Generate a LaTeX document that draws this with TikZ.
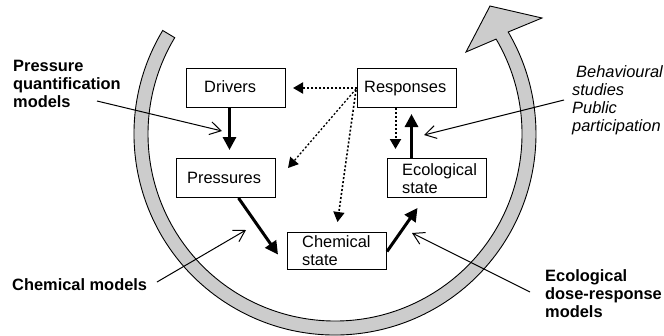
\documentclass[tikz,border=0pt]{standalone}
\usepackage{fontspec}
\setmainfont{Liberation Sans}
\usetikzlibrary{arrows.meta,calc}
\begin{document}
\begin{tikzpicture}[x=1pt,y=-1pt,
  box/.style={draw, line width=1pt, minimum width=99pt, minimum height=39pt, inner sep=0pt, fill=white, anchor=north west},
  txt/.style={anchor=base west, inner sep=0pt, align=left, font=\fontsize{16.4}{18}\selectfont},
  ann/.style={anchor=base west, inner sep=0pt, align=left, font=\fontsize{16.4}{18}\selectfont\bfseries},
  annit/.style={anchor=base west, inner sep=0pt, align=left, font=\fontsize{16.4}{18}\selectfont\itshape},
  thickarrow/.style={line width=3pt, -{Triangle[length=13pt,width=13pt]}},
  dotarrow/.style={line width=2pt, dash pattern=on 2pt off 2pt, -{Triangle[length=10pt,width=11pt]}},
  notearrow/.style={line width=1pt, -{Straight Barb[length=11pt,width=13pt]}},
]
\useasboundingbox (0,0) rectangle (664,335);

% big grey circular arrow
\coordinate (ctr) at (335,134);
\path[fill=gray!40, draw=black, line width=0.9pt]
  ($(ctr)+(211:201)$) arc[start angle=211, end angle=-30.5, radius=201]
  -- (542,18) -- (490,6) -- (466,52)
  -- ($(ctr)+(-30.5:187)$) arc[start angle=-30.5, end angle=211, radius=187]
  -- cycle;

% boxes
\node[box] (drv) at (186,68) {};
\node[box] (rsp) at (357,68) {};
\node[box] (prs) at (176,158) {};
\node[box] (eco) at (387,158) {};
\node[box, minimum height=37pt] (chm) at (287,232) {};

% box texts (anchor = baseline of last line)
\node[txt] (drvt) at (204,92.3) {Drivers};
\node[txt] (rspt) at (364,92.3) {Responses};
\node[txt] (prst) at (187,183) {Pressures};
\node[txt] (ecot) at (402,193) {Ecological\\state};
\node[txt] (chmt) at (302,265) {Chemical\\state};

% annotation texts
\node[ann] (pqm) at (13,107) {Pressure\\quantification\\models};
\node[annit] (beh) at (572,131) {\hspace*{4pt}Behavioural\\studies\\Public\\participation};
\node[ann] (cm) at (12,290) {Chemical models};
\node[ann] (edr) at (545,317) {Ecological\\dose-response\\models};

% thick arrows
\draw[thickarrow] ($(drv.south)+(-6.5,0)$) -- ($(prs.north)+(3.5,-8)$);
\draw[thickarrow] ($(prs.south)+(12.5,0)$) -- ($(chm.west)+(-9,3.5)$);
\draw[thickarrow] ($(chm.east)+(0,0.5)$) -- ($(eco.south)+(-19.5,10)$);
\draw[thickarrow] ($(eco.north)+(-25.5,0)$) -- ($(rsp.south)+(4.5,6)$);

% dotted arrows
\draw[dotarrow] (rsp.west) -- ($(drv.east)+(7,0)$);
\draw[dotarrow, line width=1.3pt] ($(rsp.west)+(-1,1)$) -- ($(prs.north east)+(12,10)$);
\draw[dotarrow, line width=1.6pt] ($(rsp.west)+(-1,2)$) -- ($(chm.north)+(0.5,-10)$);
\draw[dotarrow] ($(rsp.south)+(-11.5,0)$) -- ($(rsp.south)+(-11.5,41)$);

% annotation arrows
\coordinate (pqma) at (97,101);
\coordinate (pqmb) at (222,131);
\coordinate (beha) at (564,100);
\coordinate (behb) at (424,135);
\coordinate (cma) at (157,282);
\coordinate (cmb) at (246,230);
\coordinate (edra) at (530,292);
\coordinate (edrb) at (412,233);
\draw[notearrow] (pqma) -- (pqmb);
\draw[notearrow] (beha) -- (behb);
\draw[notearrow] (cma) -- (cmb);
\draw[notearrow] (edra) -- (edrb);
\end{tikzpicture}
\end{document}
